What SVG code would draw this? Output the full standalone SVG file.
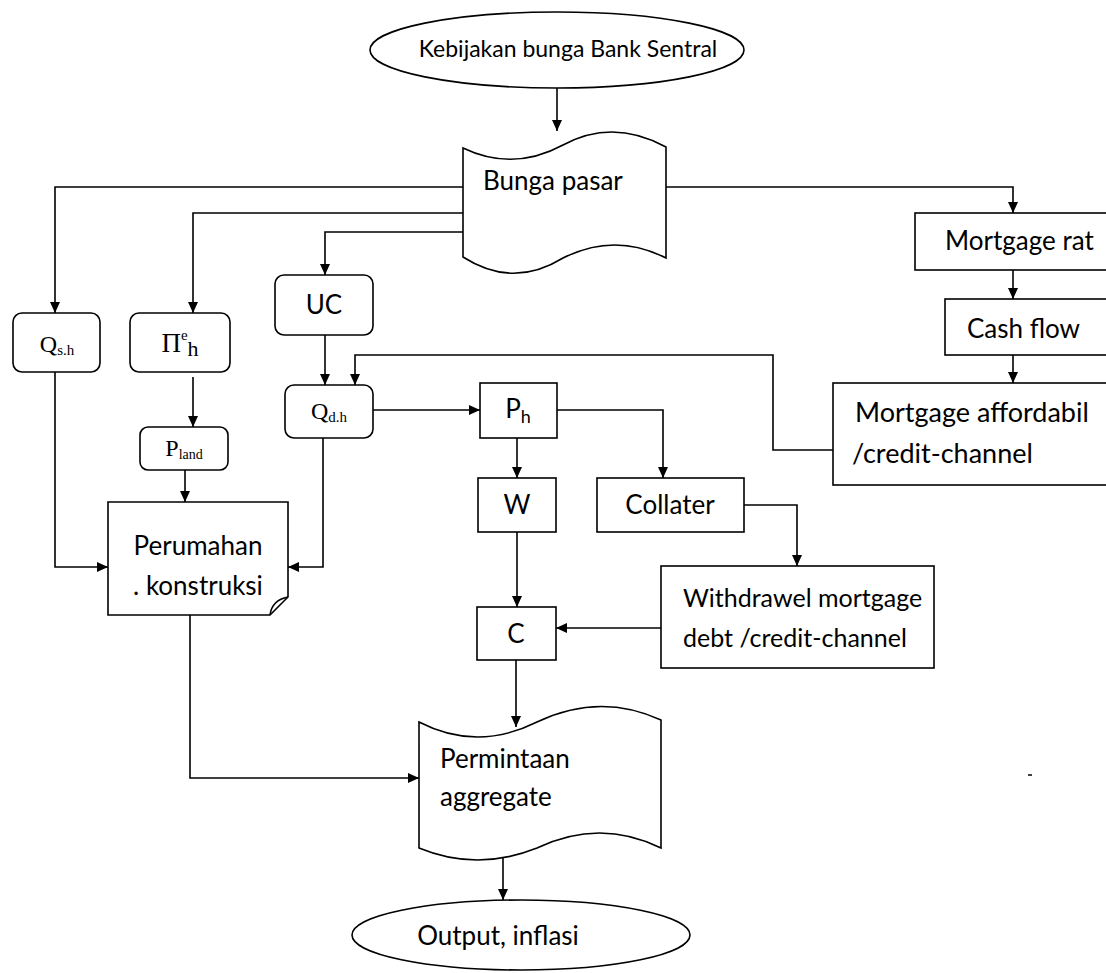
<svg xmlns="http://www.w3.org/2000/svg" width="1106" height="973" viewBox="0 0 1106 973">
<style>
.s{fill:#fff;stroke:#000;stroke-width:1.6}
.c{fill:none;stroke:#000;stroke-width:1.6}
.t{font-family:Lato,"Liberation Sans",sans-serif;font-size:26px;fill:#000}
.m{font-family:"Liberation Serif",serif;font-size:24px;fill:#000}
</style>
<defs>
<marker id="a" markerUnits="userSpaceOnUse" markerWidth="12" markerHeight="12" refX="11" refY="5" orient="auto"><path d="M0,0 L11,5 L0,10 z" fill="#000"/></marker>
</defs>
<rect width="1106" height="973" fill="#fff"/>
<g id="connectors" class="c">
<path d="M557,88 V131" marker-end="url(#a)"/>
<path d="M463,187 H55 V313" marker-end="url(#a)"/>
<path d="M463,213 H193 V313" marker-end="url(#a)"/>
<path d="M463,232 H325 V275" marker-end="url(#a)"/>
<path d="M666,187 H1013 V213" marker-end="url(#a)"/>
<path d="M1013,270 V299" marker-end="url(#a)"/>
<path d="M1013,355 V383" marker-end="url(#a)"/>
<path d="M833,450 H773 V355 H355 V385" marker-end="url(#a)"/>
<path d="M325,335 V385" marker-end="url(#a)"/>
<path d="M373,410 H480" marker-end="url(#a)"/>
<path d="M55,372 V567 H108" marker-end="url(#a)"/>
<path d="M193,377 V427" marker-end="url(#a)"/>
<path d="M185,470 V502" marker-end="url(#a)"/>
<path d="M323,438 V567 H288" marker-end="url(#a)"/>
<path d="M557,410 H663 V478" marker-end="url(#a)"/>
<path d="M517,438 V478" marker-end="url(#a)"/>
<path d="M517,532 V607" marker-end="url(#a)"/>
<path d="M744,505 H797 V566" marker-end="url(#a)"/>
<path d="M661,628 H556" marker-end="url(#a)"/>
<path d="M516,660 V727" marker-end="url(#a)"/>
<path d="M190,615 V778 H419" marker-end="url(#a)"/>
<path d="M503,858 V900" marker-end="url(#a)"/>
</g>
<g id="kebijakan"><ellipse class="s" cx="557" cy="50" rx="187" ry="38"/><text class="t" x="568" y="57" text-anchor="middle" style="font-size:23px">Kebijakan bunga Bank Sentral</text></g>
<g id="bunga"><path class="s" d="M463,148 Q513,172 563,145 Q613,118 666,147 L666,258 Q615,232 563,258 Q513,289 463,257 Z"/><text class="t" x="483" y="190">Bunga pasar</text></g>
<g id="qsh"><rect class="s" x="13" y="313" width="87" height="59" rx="9"/><text class="m" x="57" y="352" text-anchor="middle">Q<tspan style="font-size:15px" dy="3">s.h</tspan></text></g>
<g id="pie"><rect class="s" x="130" y="313" width="100" height="59" rx="9"/><text class="m" x="180" y="352" text-anchor="middle" style="font-size:27px">Π<tspan style="font-size:15px" dy="-12">e</tspan><tspan style="font-size:22px" dy="16">h</tspan></text></g>
<g id="uc"><rect class="s" x="275" y="275" width="98" height="60" rx="9"/><text class="t" x="324" y="314" text-anchor="middle">UC</text></g>
<g id="pland"><rect class="s" x="140" y="427" width="88" height="43" rx="8"/><text class="m" x="184" y="456" text-anchor="middle">P<tspan style="font-size:14px" dy="3">land</tspan></text></g>
<g id="qdh"><rect class="s" x="285" y="385" width="88" height="53" rx="9"/><text class="m" x="329" y="419" text-anchor="middle">Q<tspan style="font-size:15px" dy="3">d.h</tspan></text></g>
<g id="ph"><rect class="s" x="480" y="383" width="77" height="55"/><text class="t" x="518" y="418" text-anchor="middle">P<tspan style="font-size:18px" dy="5">h</tspan></text></g>
<g id="w"><rect class="s" x="478" y="478" width="78" height="54"/><text class="t" x="517" y="514" text-anchor="middle">W</text></g>
<g id="c"><rect class="s" x="477" y="607" width="79" height="53"/><text class="t" x="516" y="643" text-anchor="middle">C</text></g>
<g id="collater"><rect class="s" x="597" y="478" width="147" height="54"/><text class="t" x="670" y="514" text-anchor="middle">Collater</text></g>
<g id="perumahan"><path class="s" d="M108,502 H288 V597 L270,615 H108 Z"/><path class="c" d="M270,615 Q272,600 288,597"/><text class="t" x="198" y="555" text-anchor="middle">Perumahan</text><text class="t" x="198" y="595" text-anchor="middle">. konstruksi</text></g>
<g id="withdrawel"><rect class="s" x="661" y="566" width="273" height="102"/><text class="t" x="683" y="607" style="font-size:25px">Withdrawel mortgage</text><text class="t" x="683" y="647" style="font-size:25px">debt /credit-channel</text></g>
<g id="mrate"><rect class="s" x="915" y="213" width="200" height="57"/><text class="t" x="945" y="250">Mortgage rat</text></g>
<g id="cash"><rect class="s" x="945" y="299" width="170" height="56"/><text class="t" x="967" y="338">Cash flow</text></g>
<g id="afford"><rect class="s" x="833" y="383" width="282" height="102"/><text class="t" x="855" y="422" style="font-size:27px">Mortgage affordabil</text><text class="t" x="852" y="463" style="font-size:27px">/credit-channel</text></g>
<g id="permintaan"><path class="s" d="M419,722 Q477,752 537,722 Q600,692 661,720 L661,848 Q600,818 537,848 Q477,872 419,848 Z"/><text class="t" x="440" y="768">Permintaan</text><text class="t" x="440" y="806">aggregate</text></g>
<g id="output"><ellipse class="s" cx="521" cy="935" rx="169" ry="35"/><text class="t" x="498" y="945" text-anchor="middle">Output, inflasi</text></g>
<path d="M1028,775 H1032" stroke="#000" stroke-width="1.5"/>
</svg>
